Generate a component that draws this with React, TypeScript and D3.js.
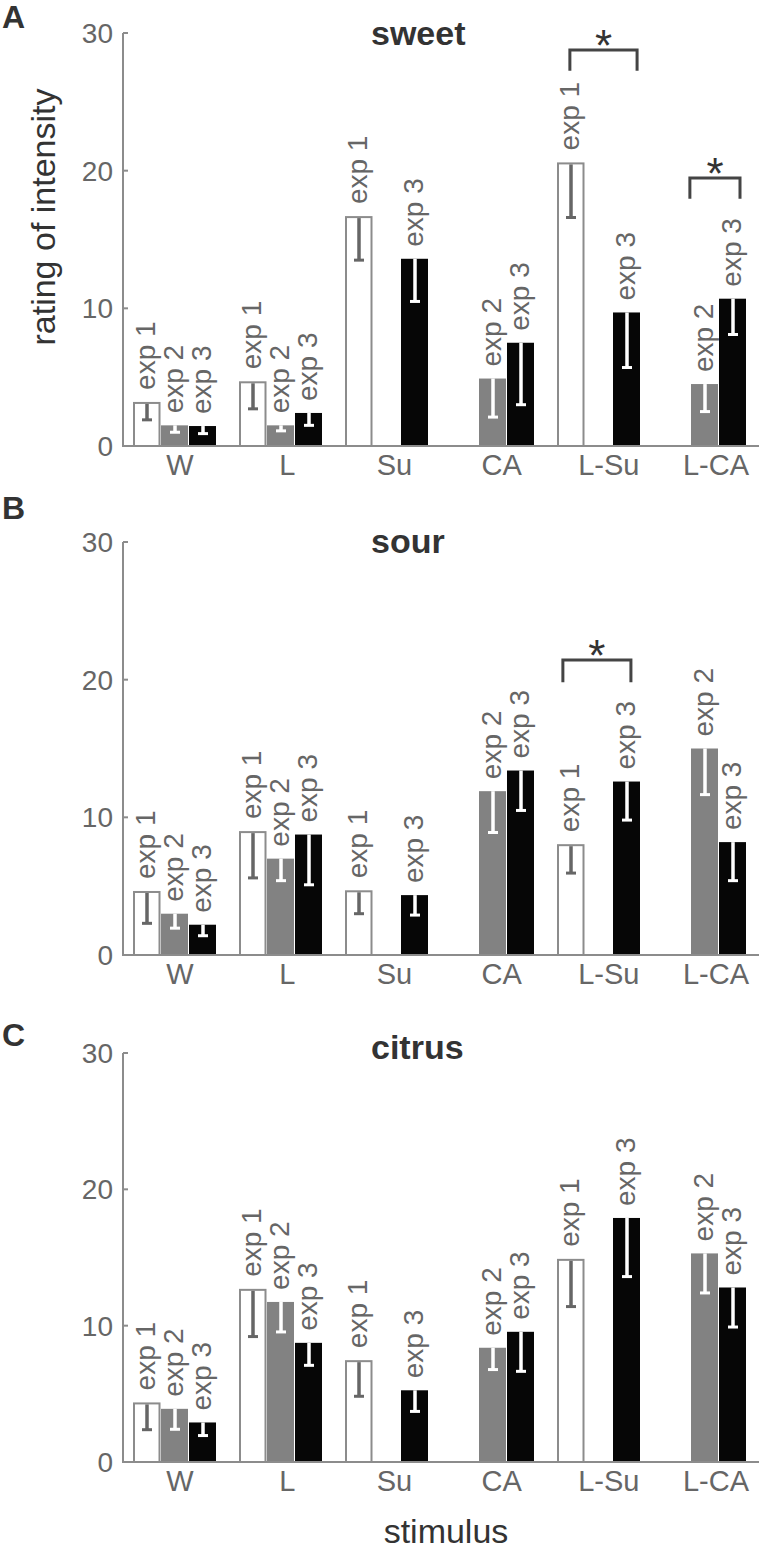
import React from "react";
import * as d3 from "d3";

const categories = ["W", "L", "Su", "CA", "L-Su", "L-CA"];
const experiments = ["exp 1", "exp 2", "exp 3"];
const yTicks = [0, 10, 20, 30];

// mean ratings per experiment (null = stimulus not tested)
const sweetExp1 = [3.2, 4.7, 16.7, null, 20.6, null];
const sweetExp2 = [1.5, 1.5, null, 4.9, null, 4.5];
const sweetExp3 = [1.45, 2.4, 13.6, 7.5, 9.7, 10.7];
const sweetErr1 = [1.3, 2.0, 3.2, null, 4.0, null];
const sweetErr2 = [0.5, 0.4, null, 2.8, null, 2.0];
const sweetErr3 = [0.55, 0.9, 3.1, 4.5, 4.0, 2.6];

const sourExp1 = [4.65, 9.0, 4.7, null, 8.05, null];
const sourExp2 = [3.0, 7.0, null, 11.9, null, 15.0];
const sourExp3 = [2.2, 8.75, 4.35, 13.4, 12.6, 8.2];
const sourErr1 = [2.35, 3.4, 1.7, null, 2.1, null];
const sourErr2 = [1.05, 1.6, null, 3.0, null, 3.35];
const sourErr3 = [0.8, 3.65, 1.45, 2.9, 2.8, 2.8];

const citrusExp1 = [4.37, 12.7, 7.47, null, 14.9, null];
const citrusExp2 = [3.9, 11.74, null, 8.38, null, 15.3];
const citrusExp3 = [2.9, 8.74, 5.26, 9.55, 17.9, 12.8];
const citrusErr1 = [2.0, 3.5, 2.65, null, 3.5, null];
const citrusErr2 = [1.5, 2.2, null, 1.6, null, 2.9];
const citrusErr3 = [0.96, 1.65, 1.55, 2.9, 4.3, 2.9];

// significance brackets: ends in bar widths from the group start, level in rating units
const sweetBrackets = [
  { cat: "L-Su", from: 0.46, to: 2.86, level: 28.76, drop: 1.5 },
  { cat: "L-CA", from: 0.96, to: 2.75, level: 19.46, drop: 1.5 },
];
const sourBrackets = [{ cat: "L-Su", from: 0.21, to: 2.64, level: 21.42, drop: 1.6 }];
const citrusBrackets: typeof sourBrackets = [];

const panels = [
  { letter: "A", title: "sweet", top: 33, base: 446, letterY: 28, titleY: 45, means: [sweetExp1, sweetExp2, sweetExp3], errs: [sweetErr1, sweetErr2, sweetErr3], brackets: sweetBrackets },
  { letter: "B", title: "sour", top: 542, base: 955, letterY: 519, titleY: 553, means: [sourExp1, sourExp2, sourExp3], errs: [sourErr1, sourErr2, sourErr3], brackets: sourBrackets },
  { letter: "C", title: "citrus", top: 1053, base: 1462, letterY: 1046, titleY: 1059, means: [citrusExp1, citrusExp2, citrusExp3], errs: [citrusErr1, citrusErr2, citrusErr3], brackets: citrusBrackets },
];

const fills = ["#ffffff", "#828282", "#060606"];
const errColors = ["#666666", "#ffffff", "#ffffff"];
const axisColor = "#8c8c8c";
const textGray = "#666666";
const dark = "#333333";
const font = "'Liberation Sans', Arial, Helvetica, sans-serif";

const x0 = d3
  .scaleBand<string>()
  .domain(categories)
  .range([122, 758])
  .paddingInner(22 / 106)
  .paddingOuter(11 / 106);
const x1 = d3.scaleBand<string>().domain(experiments).range([0, x0.bandwidth()]);
const labelX = d3.scalePoint<string>().domain(categories).range([180, 716]);

const Panel = ({ p }: { p: (typeof panels)[number] }) => {
  const y = d3.scaleLinear().domain([0, 30]).range([p.base, p.top]);
  const bw = x1.bandwidth();
  const axisX = 123;

  return (
    <g>
      <text x={2} y={p.letterY} fontFamily={font} fontWeight="bold" fontSize={32} fill={dark}>
        {p.letter}
      </text>
      <text x={371} y={p.titleY} fontFamily={font} fontWeight="bold" fontSize={34} fill={dark}>
        {p.title}
      </text>

      {/* bars */}
      {experiments.map((exp, j) =>
        categories.map((cat, i) => {
          const v = p.means[j][i];
          if (v == null) return null;
          const e = p.errs[j][i] ?? 0;
          const bx = (x0(cat) ?? 0) + (x1(exp) ?? 0);
          const cx = bx + bw / 2;
          const white = j === 0;
          return (
            <g key={`${exp}-${cat}`}>
              <rect
                x={white ? bx + 1 : bx}
                y={white ? y(v) + 1 : y(v)}
                width={white ? bw - 2.5 : bw - 1}
                height={white ? y(0) - y(v) - 1 : y(0) - y(v)}
                fill={fills[j]}
                stroke={white ? axisColor : "none"}
                strokeWidth={2}
              />
              <line x1={cx} x2={cx} y1={y(v) + (white ? 2 : 0)} y2={y(v - e)} stroke={errColors[j]} strokeWidth={3.5} />
              <line x1={cx - 5} x2={cx + 5} y1={y(v - e)} y2={y(v - e)} stroke={errColors[j]} strokeWidth={3} />
              <text
                transform={`translate(${cx},${y(v) - 12}) rotate(-90)`}
                dy="0.3em"
                fontFamily={font}
                fontSize={28}
                fill={textGray}
              >
                {exp}
              </text>
            </g>
          );
        })
      )}

      {/* axes */}
      <line x1={axisX} x2={axisX} y1={y(30)} y2={y(0)} stroke={axisColor} strokeWidth={2} />
      <line x1={axisX - 1} x2={759} y1={y(0)} y2={y(0)} stroke={axisColor} strokeWidth={2} />
      {yTicks.map((t) => (
        <g key={t}>
          <line x1={axisX} x2={axisX + 5} y1={y(t)} y2={y(t)} stroke={axisColor} strokeWidth={2} />
          <text x={axisX - 10} y={y(t)} dy="0.36em" textAnchor="end" fontFamily={font} fontSize={28} fill={textGray}>
            {t}
          </text>
        </g>
      ))}
      {categories.map((cat) => (
        <text key={cat} x={labelX(cat)} y={y(0) + 29} textAnchor="middle" fontFamily={font} fontSize={29} fill={textGray}>
          {cat}
        </text>
      ))}

      {/* significance */}
      {p.brackets.map((b) => {
        const xa = (x0(b.cat) ?? 0) + b.from * bw;
        const xb = (x0(b.cat) ?? 0) + b.to * bw;
        const path = d3.path();
        path.moveTo(xa, y(b.level - b.drop));
        path.lineTo(xa, y(b.level));
        path.lineTo(xb, y(b.level));
        path.lineTo(xb, y(b.level - b.drop));
        return (
          <g key={b.cat}>
            <path d={path.toString()} fill="none" stroke="#444444" strokeWidth={3} />
            <text x={(xa + xb) / 2} y={y(b.level) + 11} textAnchor="middle" fontFamily={font} fontSize={44} fill={dark}>
              *
            </text>
          </g>
        );
      })}
    </g>
  );
};

export default function App() {
  return (
    <svg
      width={764}
      height={1550}
      style={{ position: "absolute", left: 0, top: 0, background: "#fff" }}
    >
      {panels.map((p) => (
        <Panel key={p.letter} p={p} />
      ))}
      <text
        transform="translate(43,217) rotate(-90)"
        dy="0.35em"
        textAnchor="middle"
        fontFamily={font}
        fontSize={34}
        fill={dark}
      >
        rating of intensity
      </text>
      <text x={446} y={1543} textAnchor="middle" fontFamily={font} fontSize={34} fill={dark}>
        stimulus
      </text>
    </svg>
  );
}
